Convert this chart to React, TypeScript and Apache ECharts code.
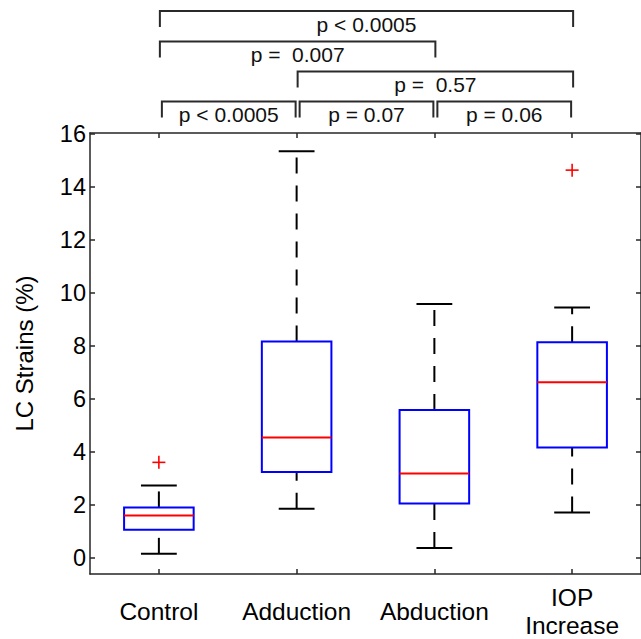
import React, { useEffect, useRef } from 'react';
import * as echarts from 'echarts';

const categories = ['Control', 'Adduction', 'Abduction', 'IOP\nIncrease'];
const lowerWhisker = [0.16, 1.86, 0.38, 1.72];
const q1 = [1.07, 3.25, 2.06, 4.17];
const median = [1.61, 4.55, 3.19, 6.63];
const q3 = [1.91, 8.17, 5.58, 8.14];
const upperWhisker = [2.74, 15.34, 9.58, 9.45];
const outlierGroup = [0, 3];
const outlierValue = [3.61, 14.63];
const yTicks = [0, 2, 4, 6, 8, 10, 12, 14, 16];

const bracketFrom = [0, 0, 1, 0, 1, 2];
const bracketTo = [3, 2, 3, 1, 2, 3];
const bracketRow = [0, 1, 2, 3, 3, 3];
const bracketLabel = ['p < 0.0005', 'p =  0.007', 'p =  0.57', 'p < 0.0005', 'p = 0.07', 'p = 0.06'];

const FONT = '"Liberation Sans", Arial, Helvetica, sans-serif';
const AXIS_COLOR = '#262626';

export default function App() {
  const ref = useRef<HTMLDivElement>(null);
  useEffect(() => {
    if (!ref.current) return;
    const chart = echarts.init(ref.current, undefined, { renderer: 'svg' });
    const boxData = categories.map((_, i) => [i, lowerWhisker[i], q1[i], median[i], q3[i], upperWhisker[i]]);
    const outData = outlierGroup.map((g, i) => [g, outlierValue[i]]);
    const bracketData = bracketFrom.map((f, i) => [f, bracketTo[i], bracketRow[i]]);
    const rowY = [11, 41.5, 71.5, 101.5];
    const drop = 16;

    const axisLine = { show: true, onZero: false, lineStyle: { color: AXIS_COLOR, width: 1.5 } };
    const tickStyle = { color: AXIS_COLOR, width: 1.5 };

    chart.setOption({
      animation: false,
      grid: { left: 90, top: 133, width: 554, height: 441, containLabel: false },
      xAxis: [
        {
          type: 'category', data: categories, position: 'bottom', boundaryGap: true,
          axisLine,
          axisTick: { show: true, inside: true, alignWithLabel: true, length: 5, lineStyle: tickStyle },
          axisLabel: { fontSize: 24.5, color: '#000', fontFamily: FONT, margin: 37, verticalAlign: 'middle', lineHeight: 28, interval: 0 },
          splitLine: { show: false },
        },
        {
          type: 'category', data: categories, position: 'top', boundaryGap: true,
          axisLine,
          axisTick: { show: true, inside: true, alignWithLabel: true, length: 5, lineStyle: tickStyle },
          axisLabel: { show: false },
          splitLine: { show: false },
        },
      ],
      yAxis: [
        {
          type: 'value', min: -0.6, max: 16.03, position: 'left',
          axisLine,
          axisTick: { show: true, inside: true, length: 5, customValues: yTicks, lineStyle: tickStyle },
          axisLabel: { customValues: yTicks, fontSize: 23.5, color: '#000', fontFamily: FONT, margin: 4 },
          splitLine: { show: false },
          name: 'LC Strains (%)', nameLocation: 'middle', nameGap: 54,
          nameTextStyle: { fontSize: 24, color: '#000', fontFamily: FONT },
        },
        {
          type: 'value', min: -0.6, max: 16.03, position: 'right',
          axisLine,
          axisTick: { show: true, inside: true, length: 5, customValues: yTicks, lineStyle: tickStyle },
          axisLabel: { show: false },
          splitLine: { show: false },
        },
      ],
      series: [
        {
          type: 'custom', silent: true,
          data: boxData,
          encode: { x: 0, y: [1, 2, 3, 4, 5] },
          renderItem: (params: any, api: any) => {
            const c = api.value(0);
            const band = api.size([1, 0])[0];
            const bw = band * 0.505;
            const cw = band * 0.26;
            const p = (k: number) => api.coord([c, api.value(k)]);
            const lw = p(1), b1 = p(2), md = p(3), b3 = p(4), uw = p(5);
            const x = lw[0];
            const dash = { stroke: '#000', lineWidth: 2, lineDash: [16, 12], fill: 'none' };
            const solid = { stroke: '#000', lineWidth: 2, fill: 'none' };
            return {
              type: 'group',
              children: [
                { type: 'line', shape: { x1: x, y1: lw[1], x2: x, y2: b1[1] }, style: dash },
                { type: 'line', shape: { x1: x, y1: b3[1], x2: x, y2: uw[1] }, style: dash },
                { type: 'line', shape: { x1: x - cw / 2, y1: lw[1], x2: x + cw / 2, y2: lw[1] }, style: solid },
                { type: 'line', shape: { x1: x - cw / 2, y1: uw[1], x2: x + cw / 2, y2: uw[1] }, style: solid },
                { type: 'rect', shape: { x: x - bw / 2, y: b3[1], width: bw, height: b1[1] - b3[1] }, style: { fill: 'none', stroke: '#0000ff', lineWidth: 2 } },
                { type: 'line', shape: { x1: x - bw / 2, y1: md[1], x2: x + bw / 2, y2: md[1] }, style: { stroke: '#ff0000', lineWidth: 2 } },
              ],
            };
          },
        },
        {
          type: 'custom', silent: true,
          data: outData,
          encode: { x: 0, y: 1 },
          renderItem: (params: any, api: any) => {
            const pt = api.coord([api.value(0), api.value(1)]);
            const h = 6.5;
            const st = { stroke: '#ff0000', lineWidth: 1.6 };
            return {
              type: 'group',
              children: [
                { type: 'line', shape: { x1: pt[0] - h, y1: pt[1], x2: pt[0] + h, y2: pt[1] }, style: st },
                { type: 'line', shape: { x1: pt[0], y1: pt[1] - h, x2: pt[0], y2: pt[1] + h }, style: st },
              ],
            };
          },
        },
        {
          type: 'custom', silent: true, clip: false,
          data: bracketData,
          encode: { x: 0, y: 1 },
          renderItem: (params: any, api: any) => {
            const i = params.dataIndex;
            const row = api.value(2);
            const inset = row === 3 ? 2 : 0;
            const xa = api.coord([api.value(0), 0])[0] + 1 + inset;
            const xb = api.coord([api.value(1), 0])[0] + 1 - inset;
            const y = rowY[row];
            const st = { stroke: '#2a2a2a', lineWidth: 2, fill: 'none' };
            return {
              type: 'group',
              children: [
                { type: 'polyline', shape: { points: [[xa, y + drop], [xa, y], [xb, y], [xb, y + drop]] }, style: st },
                {
                  type: 'text',
                  style: {
                    text: bracketLabel[i], x: (xa + xb) / 2, y: y + 13,
                    fill: '#111', fontSize: 21, fontFamily: FONT, align: 'center', verticalAlign: 'middle',
                  },
                },
              ],
            };
          },
        },
      ],
    });
    return () => chart.dispose();
  }, []);
  return <div ref={ref} style={{ position: 'absolute', left: 0, top: 0, width: 641, height: 639 }} />;
}
